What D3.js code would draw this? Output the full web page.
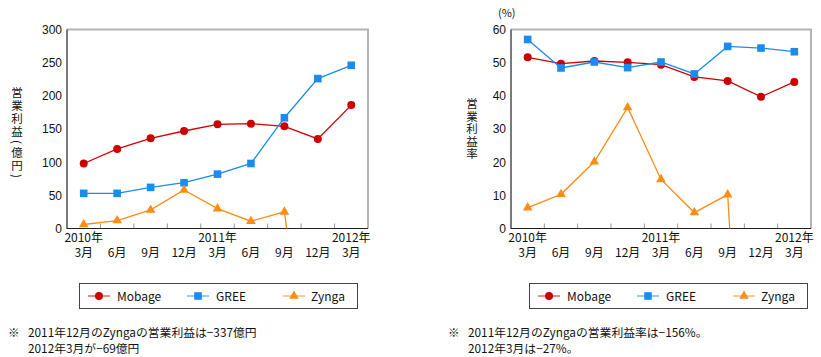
<!DOCTYPE html>
<html><head><meta charset="utf-8">
<script src="https://cdn.jsdelivr.net/npm/d3@7"></script>
<style>
html,body{margin:0;padding:0;background:#fff;}
text{font-family:"Noto Sans CJK JP","Noto Sans",sans-serif;fill:#111;}
</style></head>
<body>
<svg id="c" width="821" height="357"></svg>
<script>
const months = ["3月","6月","9月","12月","3月","6月","9月","12月","3月"];
const years  = ["2010年","","","","2011年","","","","2012年"];
const seriesNames = ["Mobage","GREE","Zynga"];
const colors = ["#cc0000","#1a8cf0","#ff8c14"];
// Operating profit (億円)
const profitMobage = [98,120,136,147,157,158,154,135,186];
const profitGREE   = [53,53,62,69,82,98,167,226,246];
const profitZynga  = [6,12,28,58,30,11,25,-337,-69];
// Operating margin (%)
const marginMobage = [51.6,49.7,50.5,50.1,49.4,45.7,44.5,39.7,44.2];
const marginGREE   = [57.0,48.4,50.2,48.5,50.2,46.6,54.9,54.4,53.3];
const marginZynga  = [6.3,10.3,20.1,36.5,14.8,4.8,10.2,-156,-27];
const leftTicks = [0,50,100,150,200,250,300];
const rightTicks = [0,10,20,30,40,50,60];
const leftTitle = ["営","業","利","益","（","億","円","）"];
const rightTitle = ["営","業","利","益","率"];
const noteLeft = ["2011年12月のZyngaの営業利益は−337億円","2012年3月が−69億円"];
const noteRight = ["2011年12月のZyngaの営業利益率は−156%。","2012年3月は−27%。"];

const svg = d3.select("#c");
const idx = d3.range(months.length);

function chart(opts){
  const {x0,x1,y0,y1,max,ticks,data,id,title,titleX,titleY,titleStep,titleSize,unit} = opts;
  const g = svg.append("g");
  const x = d3.scaleBand().domain(idx).range([x0,x1]);
  const y = d3.scaleLinear().domain([0,max]).range([y1,y0]);
  g.append("clipPath").attr("id",id).append("rect")
    .attr("x",x0).attr("y",y0-6).attr("width",x1-x0+6).attr("height",y1-y0+6);
  g.append("path").attr("d",`M${x0},${y0}H${x1}V${y1}`)
    .attr("fill","none").attr("stroke","#b4b4b4").attr("stroke-width",2);
  idx.slice(1).forEach(i=>{
    const tx = x(i);
    g.append("line").attr("x1",tx).attr("x2",tx).attr("y1",y1).attr("y2",y1-5)
      .attr("stroke","#999").attr("stroke-width",1);
  });
  g.append("path").attr("d",`M${x0},${y0}V${y1}H${x1}`)
    .attr("fill","none").attr("stroke","#222").attr("stroke-width",1.2);
  const ya = d3.axisLeft(y).tickValues(ticks).tickSize(0).tickPadding(5);
  const yg = g.append("g").attr("transform",`translate(${x0},0)`).call(ya);
  yg.select(".domain").remove();
  yg.selectAll("text").style("font-size","12px").style("font-family","Liberation Sans, Arial, sans-serif").attr("fill","#111");
  idx.forEach(i=>{
    const cx = x(i)+x.bandwidth()/2;
    if(years[i]) g.append("text").attr("x",cx).attr("y",242).attr("text-anchor","middle")
      .style("font-size","12px").text(years[i]);
    g.append("text").attr("x",cx).attr("y",257).attr("text-anchor","middle")
      .style("font-size","12px").text(months[i]);
  });
  let cy = titleY;
  title.forEach(ch=>{
    const paren = (ch==="（"||ch==="）");
    if(paren){
      g.append("text").attr("x",0).attr("y",0).attr("text-anchor","middle").attr("dominant-baseline","central")
        .attr("transform",`translate(${titleX},${cy-2}) rotate(90)`).style("font-size",titleSize+"px").text(ch==="（"?"(":")");
      cy += 8;
    } else {
      g.append("text").attr("x",titleX).attr("y",cy).attr("text-anchor","middle").attr("dominant-baseline","central")
        .style("font-size",titleSize+"px").text(ch);
      cy += titleStep;
    }
  });
  if(unit) g.append("text").attr("x",unit.x).attr("y",unit.y).style("font-size","11px").text(unit.text);
  const pg = g.append("g").attr("clip-path",`url(#${id})`);
  const line = d3.line().x((d,i)=>x(i)+x.bandwidth()/2).y(d=>y(d));
  data.forEach((vals,s)=>{
    pg.append("path").datum(vals).attr("d",line).attr("fill","none")
      .attr("stroke",colors[s]).attr("stroke-width",1.3);
    vals.forEach((v,i)=>{
      if(v<0) return;
      drawMarker(pg,s,x(i)+x.bandwidth()/2,y(v));
    });
  });
}
function drawMarker(g,s,cx,cy){
  if(s===0) g.append("circle").attr("cx",cx).attr("cy",cy).attr("r",4).attr("fill",colors[0]);
  else if(s===1) g.append("rect").attr("x",cx-3.8).attr("y",cy-3.8).attr("width",7.6).attr("height",7.6).attr("fill",colors[1]);
  else g.append("path").attr("d",d3.symbol(d3.symbolTriangle,40)()).attr("transform",`translate(${cx},${cy})`).attr("fill",colors[2]);
}
chart({x0:67,x1:368,y0:29.5,y1:228.5,max:300,ticks:leftTicks,id:"cl",
  data:[profitMobage,profitGREE,profitZynga],
  title:leftTitle,titleX:17,titleY:92,titleStep:13,titleSize:11.5});
chart({x0:511,x1:811,y0:29.5,y1:228.5,max:60,ticks:rightTicks,id:"cr",
  data:[marginMobage,marginGREE,marginZynga],
  title:rightTitle,titleX:472,titleY:103,titleStep:12.5,titleSize:11.5,unit:{x:498,y:17,text:"(%)"}});

function legend(x0,y0){
  const g = svg.append("g");
  g.append("rect").attr("x",x0+0.5).attr("y",y0+0.5).attr("width",278).attr("height",25)
    .attr("fill","#fff").attr("stroke","#444").attr("stroke-width",1);
  const offs = [[9,38],[108,137],[204,232]];
  seriesNames.forEach((n,s)=>{
    const lx = x0+offs[s][0], cy = y0+13;
    g.append("line").attr("x1",lx).attr("x2",lx+22).attr("y1",cy).attr("y2",cy)
      .attr("stroke",colors[s]).attr("stroke-width",1.3).attr("stroke-opacity",0.7);
    drawMarker(g,s,lx+11,cy);
    g.append("text").attr("x",x0+offs[s][1]).attr("y",cy+4.5).style("font-size","12px").text(n);
  });
}
legend(79,283);
legend(529,283);

function note(x0,lines){
  svg.append("text").attr("x",x0).attr("y",337).style("font-size","11.5px").text("※");
  lines.forEach((t,i)=>svg.append("text").attr("x",x0+20).attr("y",337+16*i)
    .style("font-size","11.8px").text(t));
}
note(8,noteLeft);
note(448,noteRight);
</script>
</body></html>
